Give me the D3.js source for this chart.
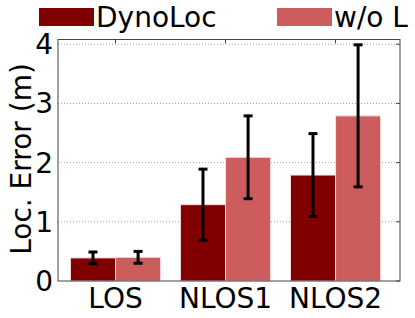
<!DOCTYPE html>
<html>
<head>
<meta charset="utf-8">
<script src="https://cdn.jsdelivr.net/npm/d3@7"></script>
<style>
  body { margin: 0; background: #fff; }
  svg { display: block; font-family: "DejaVu Sans", sans-serif; }
</style>
</head>
<body>
<svg id="chart" width="415" height="318"></svg>
<script>
// values
const scenarios = ["LOS", "NLOS1", "NLOS2"]
const series = ["DynoLoc", "w/o L"]
const dynoMean = [0.39, 1.29, 1.79]
const dynoErr = [0.1, 0.6, 0.7]
const woMean = [0.40, 2.09, 2.79]
const woErr = [0.1, 0.7, 1.2]
const yTicks = [0, 1, 2, 3, 4]
const colors = ["#800000", "#cd5c5c"]

const svg = d3.select("#chart")
const pL = 58, pR = 400, pT = 39.5, pB = 281

// group centers sit at 0,1,2 on a linear scale, same as matplotlib bar()
const x = d3.scaleLinear().domain([-0.523, 2.586]).range([pL, pR])
const y = d3.scaleLinear().domain([0, 4.08]).range([pB, pT])
const barW = 0.41

// gridlines
svg.append("g")
    .selectAll("line")
    .data(yTicks.slice(1))
    .join("line")
    .attr("x1", pL).attr("x2", pR)
    .attr("y1", d => y(d)).attr("y2", d => y(d))
    .attr("stroke", "#888")
    .attr("stroke-width", 0.8)
    .attr("stroke-dasharray", "1,2")

// bars
let rows = []
scenarios.forEach((s, i) => {
    rows.push({ i: i, k: 0, m: dynoMean[i], e: dynoErr[i] })
    rows.push({ i: i, k: 1, m: woMean[i], e: woErr[i] })
})

svg.append("g")
    .selectAll("rect")
    .data(rows)
    .join("rect")
    .attr("x", d => x(d.i - barW + d.k * barW))
    .attr("width", x(barW) - x(0))
    .attr("y", d => y(d.m))
    .attr("height", d => y(0) - y(d.m))
    .attr("fill", d => colors[d.k])
    .attr("stroke", "#f4dede")
    .attr("stroke-width", 1)

// error bars
const eb = svg.append("g").attr("stroke", "#000").attr("stroke-width", 3)
rows.forEach(d => {
    let cx = x(d.i - barW / 2 + d.k * barW)
    eb.append("line").attr("x1", cx).attr("x2", cx)
        .attr("y1", y(d.m - d.e)).attr("y2", y(d.m + d.e))
    eb.append("line").attr("x1", cx - 4.5).attr("x2", cx + 4.5)
        .attr("y1", y(d.m + d.e)).attr("y2", y(d.m + d.e))
    eb.append("line").attr("x1", cx - 4.5).attr("x2", cx + 4.5)
        .attr("y1", y(d.m - d.e)).attr("y2", y(d.m - d.e))
})

// frame
svg.append("rect")
    .attr("x", pL).attr("y", pT)
    .attr("width", pR - pL).attr("height", pB - pT)
    .attr("fill", "none")
    .attr("stroke", "#444")
    .attr("stroke-width", 1)

// small inward ticks on top and right, like matplotlib
svg.append("g")
    .selectAll("line")
    .data(scenarios)
    .join("line")
    .attr("x1", (d, i) => x(i)).attr("x2", (d, i) => x(i))
    .attr("y1", pT).attr("y2", pT + 4)
    .attr("stroke", "#444")
svg.append("g")
    .selectAll("line")
    .data(yTicks)
    .join("line")
    .attr("x1", pR - 4).attr("x2", pR)
    .attr("y1", d => y(d)).attr("y2", d => y(d))
    .attr("stroke", "#444")

// y tick labels
svg.append("g")
    .selectAll("text")
    .data(yTicks)
    .join("text")
    .attr("x", pL - 5)
    .attr("y", d => y(d) + 10)
    .attr("text-anchor", "end")
    .attr("font-size", 28)
    .text(d => d)

// x tick labels
svg.append("g")
    .selectAll("text")
    .data(scenarios)
    .join("text")
    .attr("x", (d, i) => x(i))
    .attr("y", 308)
    .attr("text-anchor", "middle")
    .attr("font-size", 28)
    .text(d => d)

// y label
svg.append("text")
    .attr("transform", "translate(31," + 159 + ") rotate(-90)")
    .attr("text-anchor", "middle")
    .attr("font-size", 28)
    .text("Loc. Error (m)")

// legend
const legX = [39, 277]
const lg = svg.append("g")
series.forEach((s, i) => {
    lg.append("rect")
        .attr("x", legX[i]).attr("y", 8)
        .attr("width", 55).attr("height", 18)
        .attr("fill", colors[i])
    lg.append("text")
        .attr("x", legX[i] + 57).attr("y", 27)
        .attr("font-size", 28)
        .text(s)
})
</script>
</body>
</html>
